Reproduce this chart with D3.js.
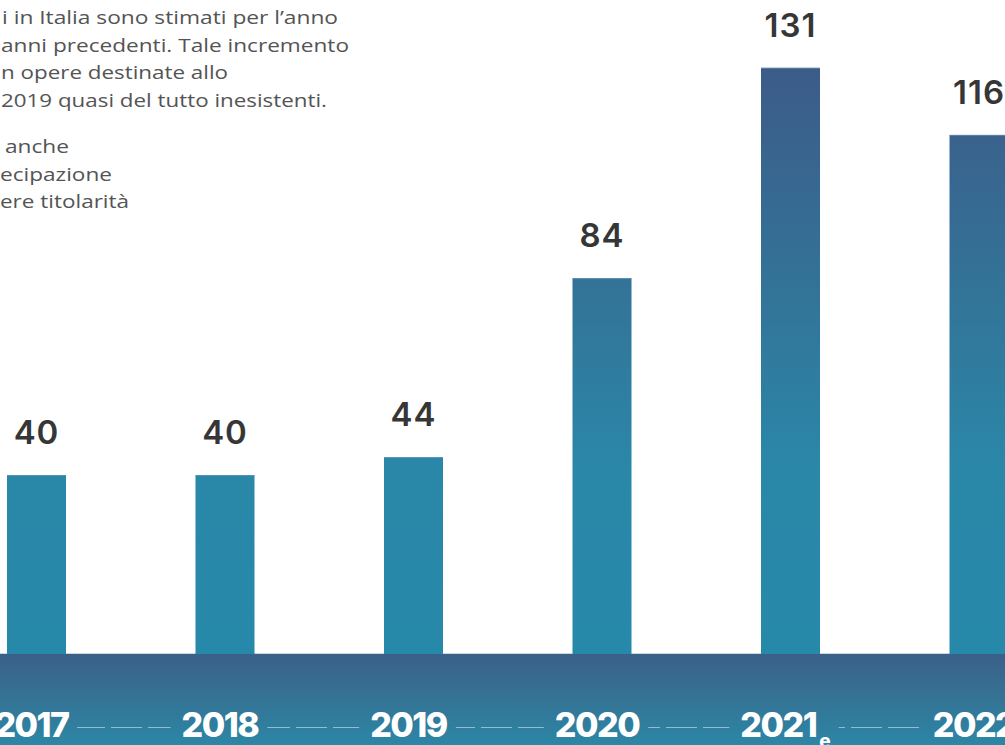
<!DOCTYPE html>
<html lang="it">
<head>
<meta charset="utf-8">
<script src="https://cdn.jsdelivr.net/npm/d3@7"></script>
<style>
  html, body { margin: 0; padding: 0; background: #ffffff; overflow: hidden; }
  svg { display: block; }
  .num { font-variant-numeric: proportional-nums; font-feature-settings: "pnum" 1, "tnum" 0; }
</style>
</head>
<body>
<svg id="chart" width="1005" height="745"></svg>
<script>
// Anni e numero di progetti (2021 stimato)
const years = ["2017", "2018", "2019", "2020", "2021", "2022"];
const values = [40, 40, 44, 84, 131, 116];
const estimateMark = ["", "", "", "", "e", ""];

// Testo introduttivo (righe visibili)
const introLines = [
  "i in Italia sono stimati per l\u2019anno",
  "anni precedenti. Tale incremento",
  "n opere destinate allo",
  "2019 quasi del tutto inesistenti."
];
const noteLines = [
  "anche",
  "ecipazione",
  "ere titolarit\u00e0"
];

const W = 1005, H = 745;
const baseY = 654;
const svg = d3.select("#chart");
const defs = svg.append("defs");

// Gradienti: barre (in coordinate assolute) e fascia degli anni
const barGrad = defs.append("linearGradient")
  .attr("id", "barGrad")
  .attr("gradientUnits", "userSpaceOnUse")
  .attr("x1", 0).attr("x2", 0)
  .attr("y1", 67).attr("y2", baseY);
[[0, "#3c5b88"], [0.42, "#32769a"], [0.68, "#2a87a8"], [1, "#2789aa"]]
  .forEach(([o, c]) => barGrad.append("stop").attr("offset", o).attr("stop-color", c));

const bandGrad = defs.append("linearGradient")
  .attr("id", "bandGrad")
  .attr("x1", 0).attr("x2", 0).attr("y1", 0).attr("y2", 1);
[[0, "#3b5f88"], [0.45, "#357293"], [1, "#2c86a6"]]
  .forEach(([o, c]) => bandGrad.append("stop").attr("offset", o).attr("stop-color", c));

// Scale
const x = d3.scaleBand()
  .domain(years)
  .range([7, 1008.5])
  .paddingInner(0.687)
  .paddingOuter(0);

const y = d3.scaleLinear()
  .domain([0, 140])
  .range([baseY, baseY - 140 * 4.475]);

// Testo introduttivo
const textGroup = svg.append("g")
  .attr("font-family", "'Open Sans', 'Noto Sans', sans-serif")
  .attr("font-size", 19)
  .attr("fill", "#545454");

const introStarts = [2, 1, 1, 1];
const introEnds = [338, 349, 228, 327];
introLines.forEach((t, i) => {
  textGroup.append("text")
    .attr("x", introStarts[i])
    .attr("y", 24 + i * 27.7)
    .attr("textLength", introEnds[i] - introStarts[i])
    .attr("lengthAdjust", "spacingAndGlyphs")
    .text(t);
});
const noteStarts = [5, 0, 0];
const noteEnds = [69, 112, 129];
noteLines.forEach((t, i) => {
  textGroup.append("text")
    .attr("x", noteStarts[i])
    .attr("y", 153 + i * 27.7)
    .attr("textLength", noteEnds[i] - noteStarts[i])
    .attr("lengthAdjust", "spacingAndGlyphs")
    .text(t);
});

// Linea di base sottile
svg.append("line")
  .attr("x1", 0).attr("x2", W)
  .attr("y1", baseY - 0.5).attr("y2", baseY - 0.5)
  .attr("stroke", "#cfd5de").attr("stroke-width", 1);

// Barre
const data = years.map((yr, i) => ({ year: yr, value: values[i], mark: estimateMark[i] }));

svg.append("g").selectAll("rect")
  .data(data)
  .join("rect")
  .attr("x", d => x(d.year))
  .attr("y", d => y(d.value))
  .attr("width", x.bandwidth())
  .attr("height", d => baseY - y(d.value) + 1)
  .attr("fill", "url(#barGrad)");

// Filo chiaro sul bordo superiore delle barre
svg.append("g").selectAll("line")
  .data(data)
  .join("line")
  .attr("x1", d => x(d.year))
  .attr("x2", d => x(d.year) + x.bandwidth())
  .attr("y1", d => y(d.value) + 0.5)
  .attr("y2", d => y(d.value) + 0.5)
  .attr("stroke", "#6f9dbd")
  .attr("stroke-opacity", 0.6)
  .attr("stroke-width", 1);

// Etichette dei valori
svg.append("g").selectAll("text")
  .data(data)
  .join("text")
  .attr("class", "num")
  .attr("x", d => x(d.year) + x.bandwidth() / 2)
  .attr("y", d => y(d.value) - 31)
  .attr("text-anchor", "middle")
  .attr("font-family", "Inter, Lato, sans-serif")
  .attr("font-weight", 600)
  .attr("font-size", 33)
  .attr("letter-spacing", 1)
  .attr("fill", "#363636")
  .text(d => d.value);

// Fascia degli anni
svg.append("rect")
  .attr("x", 0).attr("y", baseY)
  .attr("width", W).attr("height", H - baseY)
  .attr("fill", "url(#bandGrad)");

// Etichette degli anni
const yearY = 737;
const yearLabels = svg.append("g").selectAll("text")
  .data(data)
  .join("text")
  .attr("class", "num")
  .attr("x", d => x(d.year) + x.bandwidth() / 2 - 5)
  .attr("y", yearY)
  .attr("text-anchor", "middle")
  .attr("font-family", "Inter, Lato, sans-serif")
  .attr("font-weight", 800)
  .attr("font-size", 34)
  .attr("letter-spacing", -1.5)
  .attr("fill", "#ffffff");

yearLabels.append("tspan").text(d => d.year);
yearLabels.filter(d => d.mark)
  .append("tspan")
  .attr("dx", 3)
  .attr("dy", 11)
  .attr("font-size", 19)
  .attr("letter-spacing", 0)
  .text(d => d.mark);

// Linea tratteggiata tra le etichette degli anni
const boxes = [];
yearLabels.each(function () { boxes.push(this.getBBox()); });
const dashG = svg.append("g")
  .attr("stroke", "#b9cfdc")
  .attr("stroke-opacity", 0.75)
  .attr("stroke-width", 1.2)
  .attr("stroke-dasharray", "31,6");
for (let i = 0; i < boxes.length - 1; i++) {
  const x1 = boxes[i].x + boxes[i].width + 8;
  const x2 = boxes[i + 1].x - 11;
  if (x2 <= x1) continue;
  dashG.append("line")
    .attr("x1", x1).attr("x2", x2)
    .attr("y1", 727.5).attr("y2", 727.5)
    .attr("stroke-dashoffset", x1 % 37);
}
</script>
</body>
</html>
